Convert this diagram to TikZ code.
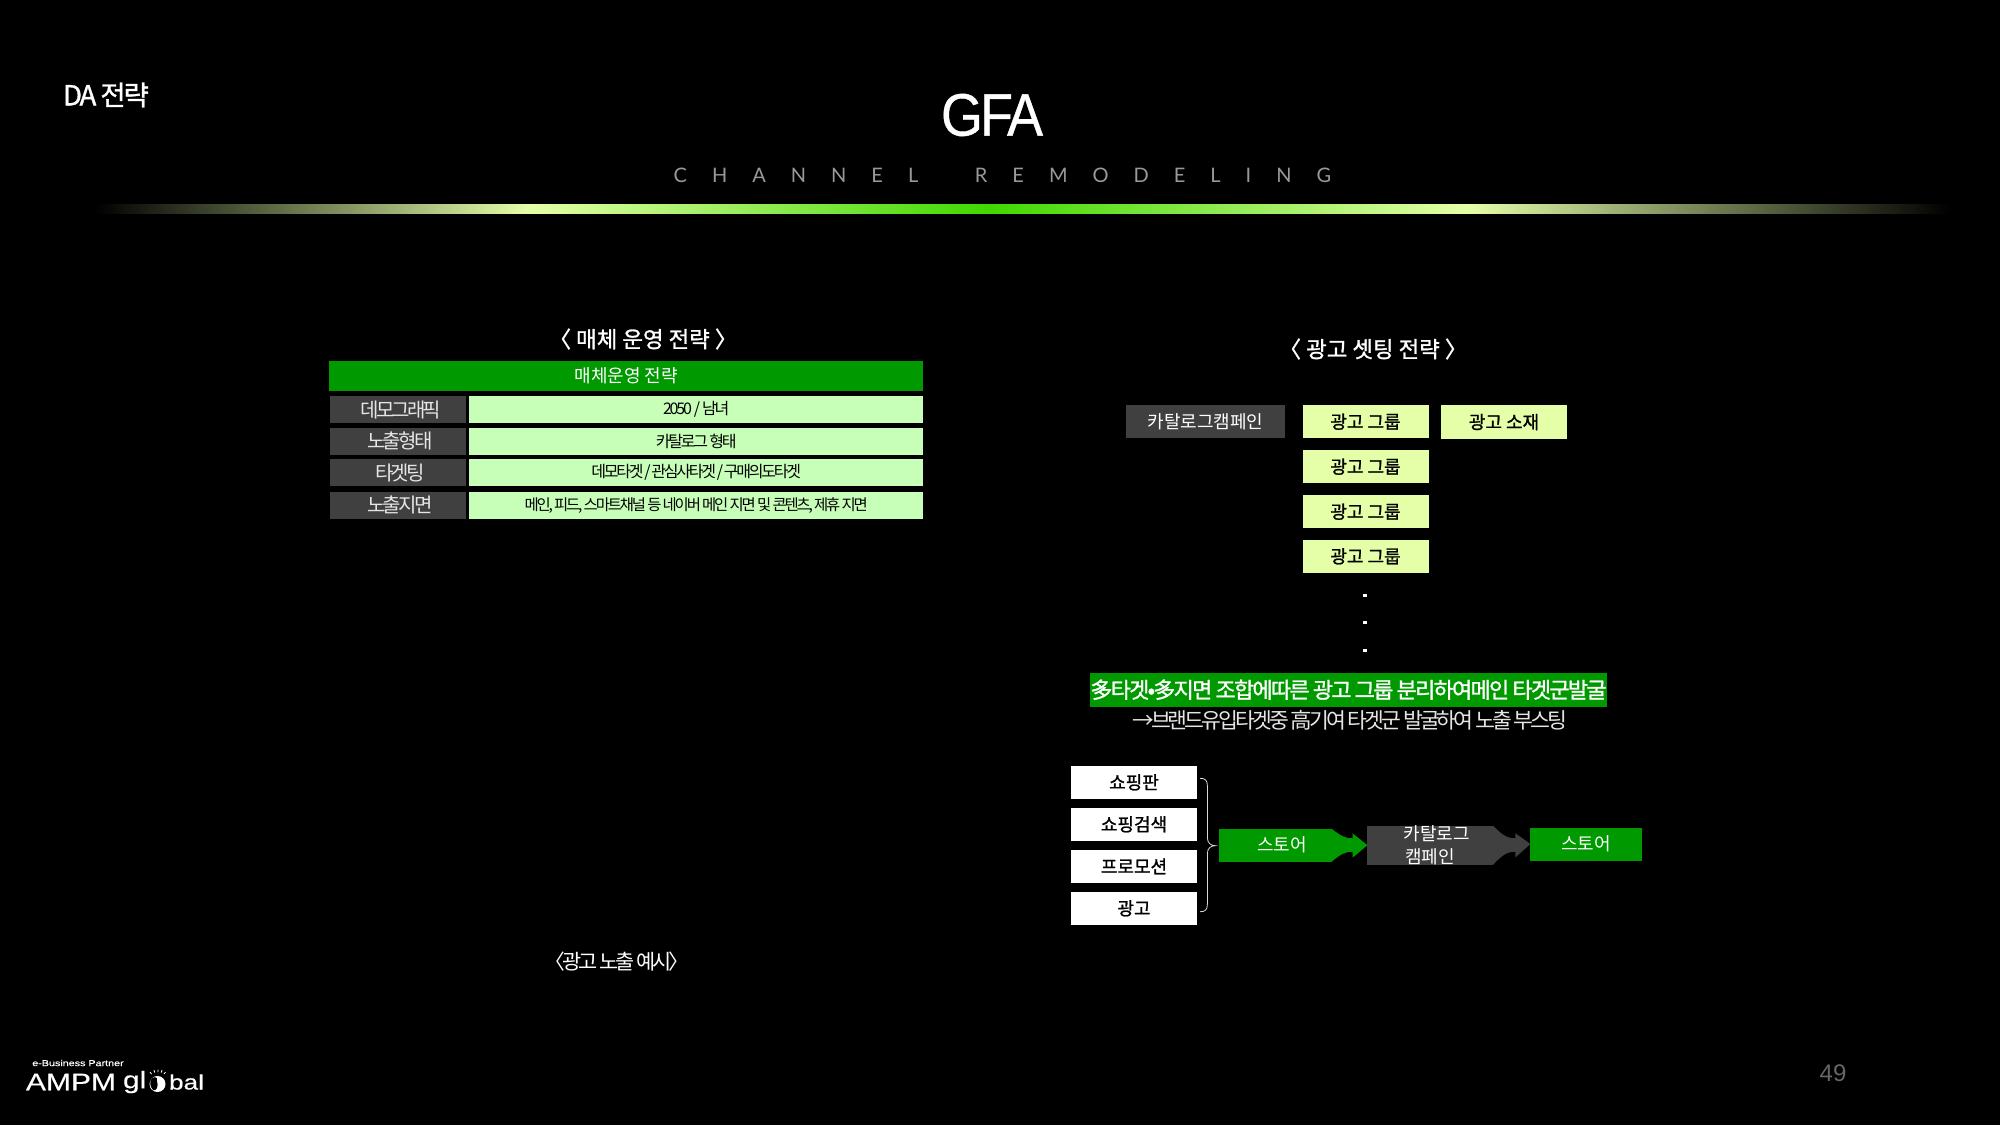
\documentclass[tikz,border=0pt]{standalone}
\usepackage{fontspec}
\usepackage{tikz}
\setmainfont{Noto Sans CJK KR}
\newfontfamily\krtight[LetterSpace=-8]{Noto Sans CJK KR}
\newfontfamily\krtighter[LetterSpace=-14]{Noto Sans CJK KR}
\newfontfamily\krmid[FakeBold=1.2]{Noto Sans CJK KR}
\newfontfamily\krtightmid[LetterSpace=-8,FakeBold=1.2]{Noto Sans CJK KR}
\newfontfamily\latinfont[LetterSpace=-5,FakeStretch=0.9,FakeBold=0.6]{Liberation Sans}
\newfontfamily\spacedfont[LetterSpace=125]{Lato}
\newfontfamily\logofont[FakeStretch=1.25,FakeBold=0.3]{Liberation Sans}
\definecolor{barGreen}{HTML}{009A00}
\definecolor{rowGreen}{HTML}{C8FFB8}
\definecolor{rowGray}{HTML}{404040}
\definecolor{groupYellow}{HTML}{E4FFA8}
\definecolor{midGreen}{HTML}{40D800}
\pgfdeclarehorizontalshading{topbar}{100bp}{color(0bp)=(black); color(25bp)=(black); color(36.7bp)=(groupYellow); color(49.1bp)=(midGreen); color(62bp)=(groupYellow); color(75bp)=(black); color(100bp)=(black)}
\tikzset{
    box/.style={inner sep=0pt, outer sep=0pt, align=center},
    headbar/.style={box, fill=barGreen, text=white, minimum width=296.75pt, minimum height=15pt, font=\fontsize{9}{11}\selectfont},
    rowlabel/.style={box, fill=rowGray, text=white!90!black, minimum width=68.25pt, minimum height=13.65pt, font=\krtighter\fontsize{10}{12}\selectfont},
    rowvalue/.style={box, fill=rowGreen, text=black, minimum width=226.75pt, minimum height=13.65pt, font=\krtighter\fontsize{8}{10}\selectfont},
    groupbox/.style={box, fill=groupYellow, text=black, minimum width=63pt, minimum height=16.65pt, font=\krmid\fontsize{9}{11}\selectfont},
    campbox/.style={box, fill=rowGray, text=white, minimum width=79.5pt, minimum height=16.65pt, font=\fontsize{9}{11}\selectfont},
    whitebox/.style={box, fill=white, text=black, minimum width=63.25pt, minimum height=16.65pt, font=\krmid\fontsize{9}{11}\selectfont},
    storebox/.style={box, fill=barGreen, text=white, minimum height=16.5pt, font=\fontsize{9}{11}\selectfont},
    headline/.style={box, text=white, font=\krmid\fontsize{11.2}{14}\selectfont},
    spacedword/.style={box, text=white!60!black, font=\spacedfont\fontsize{10}{12}\selectfont},
    dotmark/.style={box, fill=white, minimum size=1.75pt},
}
\begin{document}
\begin{tikzpicture}[x=0.5pt,y=-0.5pt]
    \fill[black] (0,0) rectangle (2000,1125);
    \useasboundingbox (0,0) rectangle (2000,1125);

    % slide head
    \node[box, text=white, font=\krtightmid\fontsize{13.8}{15}\selectfont] (pagetitle) at (106,95) {DA 전략};
    \node[box, text=white, font=\latinfont\fontsize{30}{34}\selectfont] (gfa) at (992,115) {GFA};
    \node[spacedword] (channel) at (796,175) {CHANNEL};
    \node[spacedword] (remodel) at (1153,175) {REMODELING};
    \shade[shading=topbar] (95,204) rectangle (1950,213);

    % left table
    \node[headline] (lefttitle) at (643,339) {〈 매체 운영 전략 〉};
    \node[headbar] (mediahead) at (626.2,376) {매체운영 전략};
    \node[rowlabel] (demo) at (397.8,409.8) {\hspace{3pt}데모그래픽};
    \node[rowlabel] (expo) at (397.8,441.3) {\hspace{2pt}노출형태};
    \node[rowlabel] (target) at (397.8,472.7) {\hspace{2pt}타겟팅};
    \node[rowlabel] (place) at (397.8,505.3) {\hspace{2pt}노출지면};
    \node[rowvalue] (demoval) at (696.2,409.8) {2050\hspace{1pt}/\hspace{1pt}남녀};
    \node[rowvalue] (expoval) at (696.2,441.3) {카탈로그 형태};
    \node[rowvalue] (targetval) at (696.2,472.7) {데모타겟\hspace{0.4pt}/\hspace{0.4pt}관심사타겟\hspace{0.4pt}/\hspace{0.4pt}구매의도타겟};
    \node[rowvalue, font=\krtighter\fontsize{7.7}{10}\selectfont] (placeval) at (696.2,505.3) {메인, 피드, 스마트채널 등 네이버 메인 지면 및 콘텐츠, 제휴 지면};
    \node[box, text=white, font=\krtighter\fontsize{10.4}{12}\selectfont] (examplecap) at (617,962) {〈광고 노출 예시〉};

    % right setting plan
    \node[headline] (righttitle) at (1373,349) {〈 광고 셋팅 전략 〉};
    \node[campbox] (catalog) at (1205.5,421.7) {카탈로그캠페인};
    \node[groupbox] (groupa) at (1365.5,421.7) {광고 그룹};
    \node[groupbox] (groupb) at (1365.5,466.7) {광고 그룹};
    \node[groupbox] (groupc) at (1365.5,511.7) {광고 그룹};
    \node[groupbox] (groupd) at (1365.5,556.3) {광고 그룹};
    \node[groupbox] (creative) at (1504,422) {광고 소재};
    \node[dotmark] (dota) at (1365,595.3) {};
    \node[dotmark] (dotb) at (1365,622.7) {};
    \node[dotmark] (dotc) at (1365,650.3) {};
    \node[box, fill=barGreen, text=white, minimum width=257.5pt, minimum height=17pt, font=\krtightmid\fontsize{11}{13}\selectfont] (splitnote) at (1348.5,689.7) {多타겟•多지면 조합에따른 광고 그룹 분리하여메인 타겟군발굴};
    \node[box, text=white!90!black, font=\krtighter\fontsize{10.8}{13}\selectfont] (boostnote) at (1350,720) {→브랜드유입타겟중 高기여 타겟군 발굴하여 노출 부스팅};

    % bottom flow
    \node[whitebox] (shopa) at (1134,782.3) {쇼핑판};
    \node[whitebox] (shopb) at (1134,824.3) {쇼핑검색};
    \node[whitebox] (shopc) at (1134,866.3) {프로모션};
    \node[whitebox] (shopd) at (1134,908.3) {광고};
    \node[storebox, minimum width=56.5pt] (storea) at (1275,845.2) {\hspace{7pt}스토어};
    \node[box, fill=rowGray, text=white, minimum width=62.75pt, minimum height=16.5pt, font=\fontsize{9}{11.5}\selectfont] (campaign) at (1430.2,845.2) {\hspace{6.4pt}카탈로그\\캠페인};
    \node[storebox, minimum width=55.75pt] (storeb) at (1586.2,844) {스토어};
    \fill[barGreen] (storea.north east) .. controls (1341,836) and (1345,838.3) .. (1352.5,838.3) -- (1352.5,833.3) -- (campaign.west) -- (1352.5,857.7) -- (1352.5,851.7) .. controls (1345,851.7) and (1341,854) .. (storea.south east) -- cycle;
    \fill[rowGray] (campaign.north east) .. controls (1503,836) and (1508,838.3) .. (1515.4,838.3) -- (1515.4,833.3) -- (storeb.west) -- (1515.4,857.3) -- (1515.4,851.7) .. controls (1508,851.7) and (1503,854) .. (campaign.south east) -- cycle;
    \coordinate (bracetip) at (1215.3,845.7);
    \draw[white!85!black, thin] (1200,778.3) .. controls (1205,778.3) and (1207.4,780) .. (1207.4,786) -- (1207.4,838) .. controls (1207.4,843) and (1211,845.7) .. (bracetip) .. controls (1211,845.7) and (1207.4,848) .. (1207.4,853) -- (1207.4,904) .. controls (1207.4,910) and (1205,911.7) .. (1200,911.7);

    % logo and page number
    \node[box, text=white, font=\logofont\fontsize{4.3}{5}\selectfont] (partner) at (78,1063) {e-Business Partner};
    \node[box, text=white, anchor=west, font=\logofont\fontsize{12}{14}\selectfont] (ampm) at (26,1082) {AMPM};
    \node[box, text=white, anchor=west, font=\logofont\fontsize{12}{14}\selectfont] (gl) at (123,1082) {gl};
    \node[box, circle, fill=white, minimum size=8pt] (globe) at (157.5,1084) {};
    \fill[black] (150.5,1080) .. controls (153,1076) and (158,1076) .. (157,1081) .. controls (159,1086) and (156,1092) .. (153,1090) .. controls (150,1086) and (150,1084) .. (150.5,1080) -- cycle;
    \draw[white, line width=0.4pt] (150,1072) -- (151.5,1074) (154,1070) -- (154.7,1072.5) (158,1069.5) -- (158,1072) (162,1070) -- (161.3,1072.5) (165.5,1072) -- (164,1074);
    \node[box, text=white, anchor=west, font=\logofont\fontsize{10.5}{14}\selectfont] (bal) at (169,1082) {bal};
    \node[box, text=white!40!black, font=\fontspec{Liberation Sans}\fontsize{12}{14}\selectfont] (pagenum) at (1833,1073) {49};
\end{tikzpicture}
\end{document}
